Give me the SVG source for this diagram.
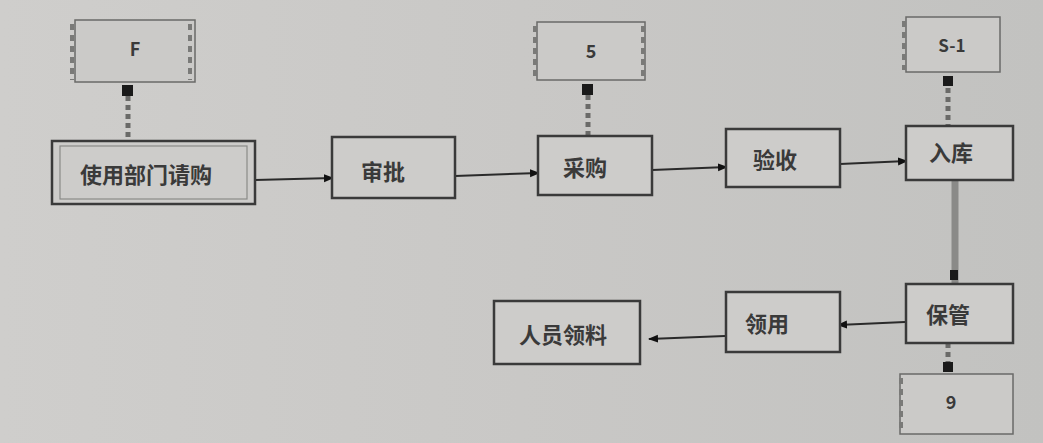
<svg xmlns="http://www.w3.org/2000/svg" width="1043" height="443" viewBox="0 0 1043 443">
  <defs>
    <linearGradient id="bg" x1="0" y1="0" x2="1" y2="0">
      <stop offset="0" stop-color="#cfcecc"/>
      <stop offset="0.5" stop-color="#c9c8c6"/>
      <stop offset="1" stop-color="#c2c2c0"/>
    </linearGradient>
    <marker id="arr" viewBox="0 0 10 10" refX="9" refY="5" markerWidth="5" markerHeight="5" orient="auto">
      <path d="M0,1 L10,5 L0,9 z" fill="#111"/>
    </marker>
    <style>
      .main{fill:#cdccca;stroke:#3a3a3a;stroke-width:2.5}
      .inner{fill:none;stroke:#8a8a88;stroke-width:1.2}
      .small{fill:#cbcac8;stroke:#6a6a68;stroke-width:1.5}
      .dash{fill:none;stroke:#7a7a78;stroke-width:4;stroke-dasharray:6 5}
      .t{font-family:"Noto Sans CJK SC","Liberation Sans",sans-serif;fill:#3a3a3a;text-anchor:middle;dominant-baseline:central;font-weight:bold}
      .conn{stroke:#2a2a2a;stroke-width:2;fill:none}
      .dot{stroke:#6a6a68;stroke-width:5;stroke-dasharray:5 4;fill:none}
      .sq{fill:#1a1a1a}
    </style>
  </defs>
  <rect x="0" y="0" width="1043" height="443" fill="url(#bg)"/>

  <g id="connectors">
    <line class="conn" x1="255" y1="180" x2="333" y2="178" marker-end="url(#arr)"/>
    <line class="conn" x1="455" y1="176" x2="539" y2="173" marker-end="url(#arr)"/>
    <line class="conn" x1="652" y1="170" x2="727" y2="167" marker-end="url(#arr)"/>
    <line class="conn" x1="840" y1="164" x2="907" y2="161" marker-end="url(#arr)"/>
    <line x1="955" y1="180" x2="955" y2="284" stroke="#8a8a88" stroke-width="7"/>
    <rect class="sq" x="950" y="270" width="8" height="10"/>
    <line class="conn" x1="905" y1="322" x2="838" y2="325" marker-end="url(#arr)"/>
    <line class="conn" x1="725" y1="336" x2="649" y2="339" marker-end="url(#arr)"/>
    <line class="dot" x1="128" y1="96" x2="128" y2="140"/>
    <rect class="sq" x="122" y="85" width="11" height="11"/>
    <line class="dot" x1="588" y1="95" x2="588" y2="135"/>
    <rect class="sq" x="582" y="84" width="11" height="11"/>
    <line class="dot" x1="948" y1="88" x2="948" y2="125"/>
    <rect class="sq" x="943" y="76" width="10" height="10"/>
    <line class="dot" x1="948" y1="343" x2="948" y2="372"/>
    <rect class="sq" x="943" y="362" width="10" height="10"/>
  </g>

  <g id="node-a">
    <rect class="main" x="52" y="141" width="203" height="63"/>
    <rect class="inner" x="60" y="146" width="187" height="53"/>
    <text class="t" x="146" y="173" font-size="22">使用部门请购</text>
  </g>
  <g id="node-b">
    <rect class="main" x="332" y="137" width="123" height="61"/>
    <text class="t" x="383" y="170" font-size="22">审批</text>
  </g>
  <g id="node-c">
    <rect class="main" x="538" y="136" width="114" height="59"/>
    <text class="t" x="585" y="166" font-size="22">采购</text>
  </g>
  <g id="node-d">
    <rect class="main" x="726" y="129" width="114" height="58"/>
    <text class="t" x="775" y="158" font-size="22">验收</text>
  </g>
  <g id="node-e">
    <rect class="main" x="906" y="126" width="107" height="54"/>
    <text class="t" x="951" y="151" font-size="22">入库</text>
  </g>
  <g id="node-f">
    <rect class="main" x="906" y="284" width="107" height="59"/>
    <text class="t" x="948" y="313" font-size="22">保管</text>
  </g>
  <g id="node-g">
    <rect class="main" x="726" y="292" width="114" height="60"/>
    <text class="t" x="767" y="322" font-size="22">领用</text>
  </g>
  <g id="node-h">
    <rect class="main" x="494" y="301" width="146" height="63"/>
    <text class="t" x="563" y="333" font-size="22">人员领料</text>
  </g>

  <g id="node-s1">
    <rect class="small" x="75" y="20" width="120" height="62"/>
    <line class="dash" x1="72" y1="24" x2="72" y2="80"/>
    <line class="dash" x1="190" y1="24" x2="190" y2="80"/>
    <text class="t" x="135" y="48" font-size="18">F</text>
  </g>
  <g id="node-s2">
    <rect class="small" x="537" y="22" width="108" height="58"/>
    <line class="dash" x1="535" y1="26" x2="535" y2="78"/>
    <line class="dash" x1="643" y1="26" x2="643" y2="78"/>
    <text class="t" x="591" y="50" font-size="18">5</text>
  </g>
  <g id="node-s3">
    <rect class="small" x="906" y="17" width="94" height="55"/>
    <line class="dash" x1="904" y1="21" x2="904" y2="70"/>
    <text class="t" x="952" y="44" font-size="17">S-1</text>
  </g>
  <g id="node-s4">
    <rect class="small" x="900" y="374" width="113" height="60"/>
    <line class="dash" x1="901" y1="378" x2="901" y2="432"/>
    <text class="t" x="951" y="401" font-size="18">9</text>
  </g>
</svg>
